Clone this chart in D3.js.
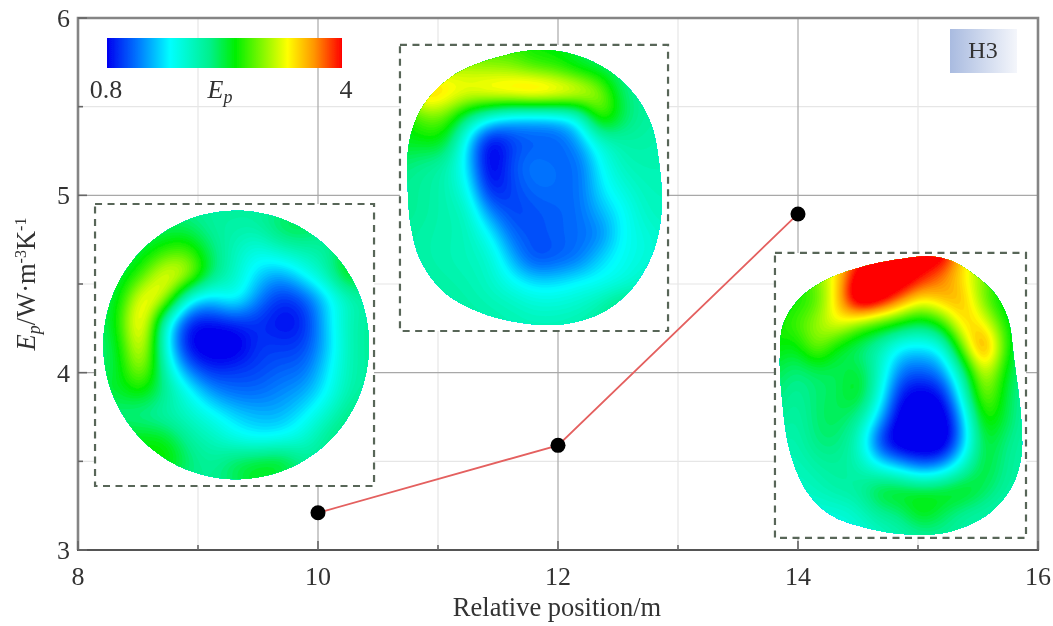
<!DOCTYPE html>
<html><head><meta charset="utf-8">
<style>html,body{margin:0;padding:0;background:#fff}svg{display:block}text{font-family:"Liberation Serif",serif;fill:#333}</style>
<script src="https://cdn.jsdelivr.net/npm/d3@7"></script></head><body>
<script>
const positions=[10,12,14];
const epValues=[3.21,3.59,4.895];
const xTicks=[8,10,12,14,16];
const yTicks=[3,4,5,6];
const colorDomain=[0.8,1.22,1.66,2.2,2.55,3.26,3.62,4];
const colorRange=["#0000f0","#0078ff","#00ffff","#00f08c","#00f000","#ffff00","#ff9600","#ff0000"];
const frame1=[8.142,10.467,4.951,3.361];
const frame2=[10.683,12.917,5.848,4.235];
const frame3=[13.808,15.9,4.675,3.068];
const outline1=[[982,500],[946,682],[843,837],[688,940],[506,976],[324,940],[169,837],[66,682],[30,500],[66,318],[169,163],[324,60],[506,24],[688,60],[843,163],[946,318]];
const outline2=[[515,18],[652,35],[776,88],[876,175],[938,281],[969,433],[975,585],[944,725],[863,854],[752,936],[602,977],[453,971],[304,936],[168,866],[81,760],[43,643],[29,491],[31,363],[56,269],[106,187],[193,111],[329,53]];
const outline3=[[620,12],[707,29],[793,76],[873,140],[927,228],[953,380],[980,579],[980,719],[940,825],[847,918],[700,977],[540,988],[367,965],[220,918],[127,836],[60,696],[27,497],[20,368],[33,251],[100,158],[220,88],[380,41],[513,20]];
const grid1=[
[2.2,2.2,2.2,2.2,2.2,2.15,2.15,2.15,2.2,2.2,2.15,2.15,2.15],
[2.3,2.3,2.3,2.35,2.35,2.15,2.1,2.1,2.35,2.4,2.2,2.15,2.15],
[2.35,2.35,2.45,2.7,2.75,2.3,2.0,1.8,1.95,2.05,2.15,2.5,2.2],
[2.4,2.4,2.75,3.25,3.05,2.3,1.95,1.55,1.4,1.7,2.05,2.6,2.2],
[2.35,2.5,3.3,3.1,1.85,1.55,1.75,1.3,1.0,1.15,1.6,2.05,2.15],
[2.3,2.6,3.45,2.0,1.0,0.9,1.0,1.0,0.85,0.95,1.55,2.05,2.15],
[2.25,2.5,3.3,1.85,0.85,0.7,0.7,1.0,1.0,1.05,1.5,2.05,2.15],
[2.3,2.45,3.05,2.05,1.25,0.95,1.0,1.05,1.15,1.2,1.6,2.05,2.15],
[2.45,2.45,2.6,2.2,1.75,1.35,1.2,1.2,1.3,1.4,1.7,2.1,2.15],
[2.25,2.25,2.2,2.1,1.95,1.75,1.55,1.45,1.45,1.65,1.95,2.25,2.3],
[2.3,2.5,2.55,2.5,2.15,2.0,1.8,1.7,1.75,1.9,2.2,2.35,2.3],
[2.4,2.5,2.55,2.65,2.3,2.15,2.35,2.45,2.5,2.2,2.2,2.2,2.2],
[2.2,2.2,2.2,2.2,2.2,2.2,2.3,2.5,2.3,2.2,2.2,2.2,2.2]];
const grid2=[
[2.6,2.6,2.7,2.7,2.7,2.7,2.55,2.55,2.45,2.2,2.15,2.15,2.15],
[2.9,3.05,3.05,3.05,3.0,2.95,2.8,2.7,2.5,2.4,2.2,2.15,2.15],
[2.9,3.5,3.4,3.25,3.35,3.45,3.55,3.45,3.3,2.95,2.3,2.15,2.1],
[2.5,2.85,2.85,2.3,1.85,1.6,1.55,1.6,1.85,2.8,2.35,2.15,2.1],
[2.5,2.55,2.5,1.65,0.85,1.05,1.15,1.15,1.4,1.95,2.1,2.1,2.05],
[2.3,2.2,2.1,1.6,0.75,1.1,1.25,1.2,1.2,1.7,2.0,2.05,2.05],
[2.2,2.15,2.05,1.75,0.9,1.05,1.2,1.2,1.2,1.6,1.85,2.0,2.0],
[2.2,2.15,2.05,1.95,1.3,1.05,1.1,1.15,1.2,1.45,1.7,1.95,2.0],
[2.15,2.1,2.05,2.0,1.7,1.2,1.1,1.15,1.2,1.3,1.7,1.85,1.95],
[2.15,2.1,2.05,2.0,1.9,1.45,1.1,1.15,1.25,1.55,1.75,1.85,1.95],
[2.2,2.15,2.1,2.05,1.95,1.75,1.6,1.6,1.7,1.75,1.85,2.0,2.05],
[2.2,2.2,2.15,2.1,2.05,2.0,1.9,1.9,1.95,2.1,2.35,2.2,2.1],
[2.15,2.15,2.15,2.15,2.1,2.05,2.05,2.05,2.1,2.15,2.2,2.15,2.15]];
const grid3=[
[2.8,2.8,3.0,3.4,3.8,4.2,4.2,4.2,4.2,3.4,3.0,2.6,2.4],
[2.5,2.7,2.9,3.4,4.2,4.3,4.3,4.0,3.7,3.35,2.9,2.6,2.4],
[2.5,2.6,2.8,3.45,4.3,4.15,3.7,3.3,3.5,3.5,2.9,2.45,2.4],
[2.6,2.75,3.0,3.25,2.95,2.7,2.5,2.35,2.65,3.4,3.3,2.65,2.3],
[2.6,2.5,2.9,2.5,2.3,2.05,1.65,1.6,1.8,2.9,3.7,2.75,2.2],
[2.4,2.25,2.35,2.35,2.45,1.95,1.25,1.15,1.35,2.2,3.2,2.55,2.15],
[2.3,2.15,2.3,2.35,2.5,1.8,0.9,0.75,0.9,1.85,2.95,2.45,2.1],
[2.2,2.1,2.3,2.35,2.15,1.45,0.7,0.6,0.65,1.5,2.65,2.4,2.1],
[2.1,2.05,2.25,2.25,1.95,1.05,0.65,0.6,0.65,1.45,2.45,2.25,2.1],
[2.05,2.0,2.1,2.15,2.05,1.75,1.5,1.25,1.4,1.95,2.45,2.2,2.1],
[2.05,1.95,2.0,2.1,2.15,2.45,2.5,2.45,2.5,2.55,2.35,2.15,2.1],
[1.95,1.9,1.85,1.85,1.95,2.15,2.25,2.55,2.35,2.15,2.1,2.05,2.05],
[2.0,1.9,1.85,1.8,1.85,1.95,2.05,2.1,2.15,2.15,2.1,2.1,2.1]];
const mapList=[[frame1,outline1,grid1],[frame2,outline2,grid2],[frame3,outline3,grid3]];

const W=1053,H=626,m={l:78,r:1038,t:18,b:550};
const x=d3.scaleLinear().domain([8,16]).range([m.l,m.r]);
const y=d3.scaleLinear().domain([3,6]).range([m.b,m.t]);
const color=d3.scaleLinear().domain(colorDomain).range(colorRange).clamp(true);
const svg=d3.select("body").append("svg").attr("width",W).attr("height",H);
const defs=svg.append("defs");
defs.append("filter").attr("id","soft").attr("x","-2%").attr("y","-2%").attr("width","104%").attr("height","104%")
  .append("feGaussianBlur").attr("stdDeviation",0.55);
const root=svg.append("g").attr("filter","url(#soft)");
root.append("rect").attr("width",W).attr("height",H).attr("fill","#fff");

const minorX=d3.range(9,16,2), majorX=[10,12,14], minorY=[3.5,4.5,5.5], majorY=[4,5];
root.selectAll(".gx").data(minorX).join("line").attr("x1",x).attr("x2",x).attr("y1",m.t).attr("y2",m.b).attr("stroke","#e6e6e6").attr("stroke-width",1.2);
root.selectAll(".gy").data(minorY).join("line").attr("y1",y).attr("y2",y).attr("x1",m.l).attr("x2",m.r).attr("stroke","#e6e6e6").attr("stroke-width",1.2);
root.selectAll(".gX").data(majorX).join("line").attr("x1",x).attr("x2",x).attr("y1",m.t).attr("y2",m.b).attr("stroke","#a8a8a8").attr("stroke-width",1.2);
root.selectAll(".gY").data(majorY).join("line").attr("y1",y).attr("y2",y).attr("x1",m.l).attr("x2",m.r).attr("stroke","#a8a8a8").attr("stroke-width",1.2);

const ax=root.append("g");
ax.append("path").attr("d",`M${m.l},${m.b}V${m.t}H${m.r}V${m.b}`).attr("fill","none").attr("stroke","#858585").attr("stroke-width",2.6);
ax.append("line").attr("x1",m.l-1).attr("x2",m.r+1).attr("y1",m.b).attr("y2",m.b).attr("stroke","#555").attr("stroke-width",2.2);
const xT=d3.range(8,16.01,1), yT=d3.range(3,6.01,0.5);
ax.selectAll(".tx").data(xT).join("line").attr("x1",x).attr("x2",x).attr("y1",m.b).attr("y2",d=>m.b-(d%2===0?9:5)).attr("stroke","#666").attr("stroke-width",1.6);
ax.selectAll(".ty").data(yT).join("line").attr("y1",y).attr("y2",y).attr("x1",m.l).attr("x2",d=>m.l+(d%1===0?9:5)).attr("stroke","#666").attr("stroke-width",1.6);
root.selectAll(".xl").data(xTicks).join("text").attr("x",x).attr("y",m.b+35).attr("text-anchor","middle").attr("font-size",26).text(d=>d);
root.selectAll(".yl").data(yTicks).join("text").attr("x",m.l-8).attr("y",d=>y(d)+9).attr("text-anchor","end").attr("font-size",26).text(d=>d);
root.append("text").attr("x",557).attr("y",616).attr("text-anchor","middle").attr("font-size",26.5).text("Relative position/m");
const yl=root.append("text").attr("transform","translate(35,284) rotate(-90)").attr("text-anchor","middle").attr("font-size",26.5);
yl.append("tspan").attr("font-style","italic").text("E");
yl.append("tspan").attr("font-style","italic").attr("font-size",18).attr("dy",5).text("p");
yl.append("tspan").attr("dy",-5).text("/W·m");
yl.append("tspan").attr("font-size",16).attr("dy",-9).text("-3");
yl.append("tspan").attr("dy",9).text("K");
yl.append("tspan").attr("font-size",16).attr("dy",-9).text("-1");

function resample(g,k){
  const r=g.length,c=g[0].length,nx=(c-1)*k+1,ny=(r-1)*k+1,out=new Float64Array(nx*ny);
  const cr=(a,b,d,e,t)=>0.5*(2*b+(d-a)*t+(2*a-5*b+4*d-e)*t*t+(3*b-a-3*d+e)*t*t*t);
  const at=(j,i)=>g[Math.max(0,Math.min(r-1,j))][Math.max(0,Math.min(c-1,i))];
  for(let jj=0;jj<ny;jj++){const fj=jj/k,j=Math.min(r-2,Math.floor(fj)),tj=fj-j;
    for(let ii=0;ii<nx;ii++){const fi=ii/k,i=Math.min(c-2,Math.floor(fi)),ti=fi-i;
      const col=[-1,0,1,2].map(d=>cr(at(j+d,i-1),at(j+d,i),at(j+d,i+1),at(j+d,i+2),ti));
      out[jj*nx+ii]=cr(col[0],col[1],col[2],col[3],tj);}}
  d3.blur2({data:out,width:nx,height:ny},2.5);
  return {out,nx,ny};
}
const thresholds=d3.range(0.8,4.001,0.04);
mapList.forEach(([f,o,g],n)=>{
  const x0=x(f[0]),x1=x(f[1]),y0=y(f[2]),y1=y(f[3]),w=x1-x0,h=y1-y0;
  const gp=root.append("g").attr("class","map");
  gp.append("rect").attr("x",x0).attr("y",y0).attr("width",w).attr("height",h).attr("fill","#fff").attr("stroke","#586658").attr("stroke-width",2.2).attr("stroke-dasharray","7 5.5");
  const pts=o.map(p=>[x0+p[0]/1000*w,y0+p[1]/1000*h]);
  const clipD=d3.line().curve(d3.curveCatmullRomClosed.alpha(0.5))(pts);
  defs.append("clipPath").attr("id","c"+n).append("path").attr("d",clipD);
  const k=8,{out,nx,ny}=resample(g,k);
  const cs=d3.contours().size([nx,ny]).thresholds(thresholds)(Array.from(out));
  const path=d3.geoPath(d3.geoTransform({point(px,py){this.stream.point(x0+(px-0.5)/(nx-1)*w,y0+(py-0.5)/(ny-1)*h);}}));
  const hm=gp.append("g").attr("clip-path",`url(#c${n})`);
  hm.append("rect").attr("x",x0).attr("y",y0).attr("width",w).attr("height",h).attr("fill",color(0.8));
  hm.selectAll("path").data(cs).join("path").attr("d",path).attr("fill",d=>color(d.value));
});

const line=d3.line().x((d,i)=>x(positions[i])).y(d=>y(d));
root.append("path").attr("d",line(epValues)).attr("fill","none").attr("stroke","#e4605f").attr("stroke-width",1.8);
root.selectAll(".pt").data(epValues).join("circle").attr("cx",(d,i)=>x(positions[i])).attr("cy",d=>y(d)).attr("r",7.5).attr("fill","#000");

const gr=defs.append("linearGradient").attr("id","cb");
colorDomain.forEach((d,i)=>gr.append("stop").attr("offset",(d-0.8)/3.2).attr("stop-color",colorRange[i]));
root.append("rect").attr("x",107).attr("y",38).attr("width",235).attr("height",30).attr("fill","url(#cb)");
root.append("text").attr("x",106).attr("y",98).attr("text-anchor","middle").attr("font-size",26).text("0.8");
root.append("text").attr("x",346).attr("y",98).attr("text-anchor","middle").attr("font-size",26).text("4");
const ep=root.append("text").attr("x",220).attr("y",98).attr("text-anchor","middle").attr("font-size",26).attr("font-style","italic");
ep.append("tspan").text("E");
ep.append("tspan").attr("font-size",18).attr("dy",5).text("p");

const tg=defs.append("linearGradient").attr("id","tag");
tg.append("stop").attr("offset",0).attr("stop-color","#a9bbe0");
tg.append("stop").attr("offset",1).attr("stop-color","#f4f6fb");
root.append("rect").attr("x",950).attr("y",29).attr("width",67).attr("height",44).attr("fill","url(#tag)");
root.append("text").attr("x",983).attr("y",58).attr("text-anchor","middle").attr("font-size",24).text("H3");
</script></body></html>
